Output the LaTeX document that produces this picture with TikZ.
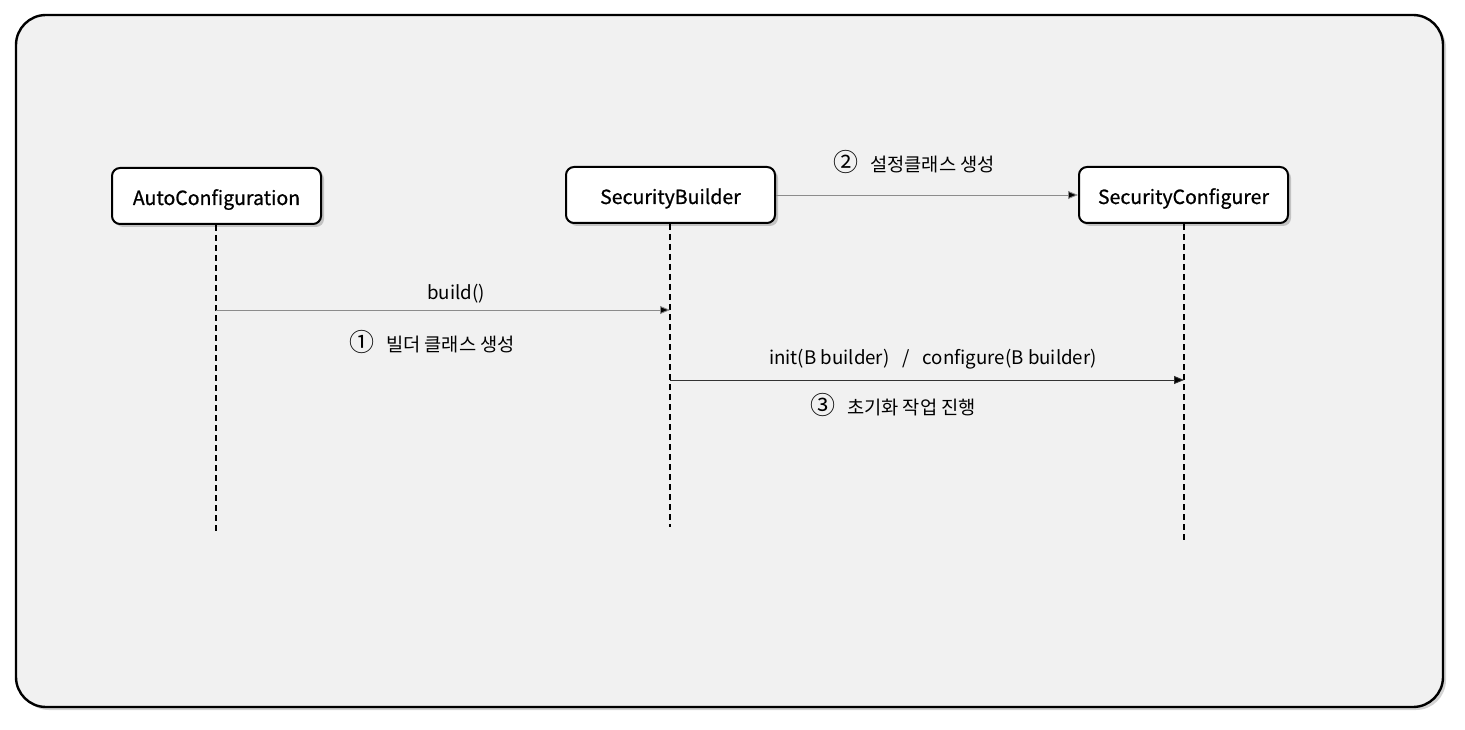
\documentclass[tikz,border=0pt]{standalone}
\usepackage{fontspec}
\setmainfont{Noto Sans CJK KR}
\newfontfamily\boxfont[FakeBold=0.8]{Noto Sans CJK KR}
\usetikzlibrary{shadows,arrows.meta}
\definecolor{bgfill}{HTML}{F1F1F1}
\definecolor{linegray}{HTML}{8C8C8C}
\newcommand{\cnum}[1]{{\fontsize{25}{25}\selectfont #1}}
\tikzset{
  x=1pt,y=-1pt,
  frame/.style={draw=black,line width=2.4pt,fill=bgfill,rounded corners=30pt,
    drop shadow={opacity=0.35,shadow xshift=3pt,shadow yshift=-3pt}},
  actor/.style={draw=black,line width=2pt,fill=white,rounded corners=8pt,
    minimum width=209pt,minimum height=56pt,inner sep=0pt,
    text height=18pt,text depth=0pt,
    font=\boxfont\fontsize{19.5}{22}\selectfont,
    drop shadow={opacity=0.4,shadow xshift=3pt,shadow yshift=-3pt}},
  lifeline/.style={draw=black,line width=1.8pt,dash pattern=on 6pt off 4pt},
  tip/.style={-{Triangle[length=10pt,width=8pt,fill=black]}},
  msg/.style={line width=0.9pt,tip},
  lbl/.style={font=\fontsize{18.7}{22}\selectfont,inner sep=0pt,anchor=base},
}
\begin{document}
\begin{tikzpicture}
\useasboundingbox (0,0) rectangle (1465,730);
\draw[frame] (16,15) rectangle (1443,707);

\node[actor] (auto) at (216.5,196) {AutoConfiguration};
\node[actor] (sb) at (670.5,195) {SecurityBuilder};
\node[actor] (sc) at (1183.5,195) {SecurityConfigurer};

\coordinate (autoEnd) at (216,533);
\coordinate (sbEnd) at (670,527);
\coordinate (scEnd) at (1184,541);
\draw[lifeline] (auto.south -| autoEnd) -- (autoEnd);
\draw[lifeline] (sb.south -| sbEnd) -- (sbEnd);
\draw[lifeline] (sc.south -| scEnd) -- (scEnd);

\coordinate (m1s) at (216,310);
\coordinate (m1e) at (670,310);
\coordinate (m3s) at (670,380);
\coordinate (m3e) at (1184,380);

\draw[msg,draw=linegray] (m1s) -- (m1e);
\draw[msg,draw=linegray] (sb.east) -- (sc.west);
\draw[msg,draw=black!80] (m3s) -- (m3e);

\node[lbl] (l1) at (456,299) {build()};
\node[lbl] (l1b) at (432,351) {\cnum{①}\hspace{12pt}빌더 클래스 생성};
\node[lbl] (l2) at (914,172) {\cnum{②}\hspace{12pt}설정클래스 생성};
\node[lbl] (l3) at (933,364) {init(B builder)\hspace{13pt}/\hspace{13pt}configure(B builder)};
\node[lbl] (l3b) at (893,414) {\cnum{③}\hspace{12pt}초기화 작업 진행};
\end{tikzpicture}
\end{document}
